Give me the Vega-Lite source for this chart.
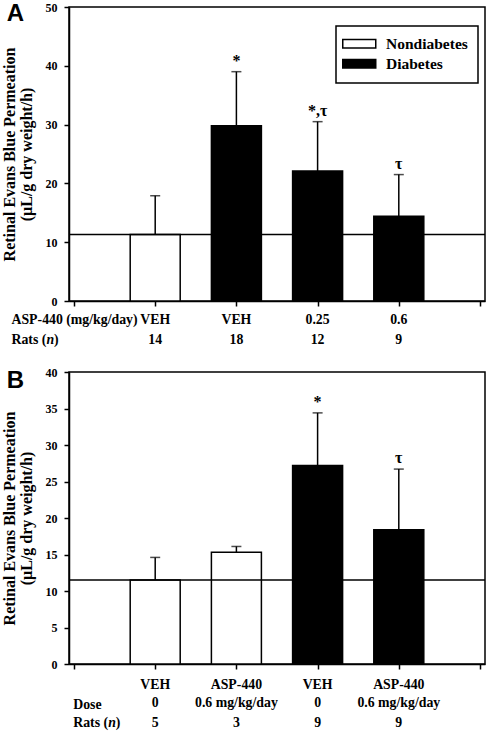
{
  "$schema": "https://vega.github.io/schema/vega-lite/v6.json",
  "padding": 0,
  "background": "white",
  "spacing": 17,
  "config": {
    "font": "Liberation Serif",
    "view": {"stroke": "black", "strokeWidth": 1.5},
    "axis": {
      "domainColor": "black", "domainWidth": 1.5,
      "tickColor": "black", "tickWidth": 1.5, "tickSize": 5,
      "grid": false, "labelOverlap": false,
      "labelFont": "Liberation Serif", "labelFontWeight": "bold", "labelFontSize": 12, "labelColor": "black", "labelPadding": 7,
      "titleFont": "Liberation Serif", "titleFontWeight": "bold", "titleFontSize": 16, "titleColor": "black"
    },
    "legend": {
      "labelFont": "Liberation Serif", "labelFontWeight": "bold", "labelFontSize": 15.5, "labelColor": "black",
      "strokeColor": "black", "fillColor": "white", "strokeWidth": 1.5
    },
    "text": {"font": "Liberation Serif", "fontWeight": "bold", "fontSize": 13.8, "color": "black"}
  },
  "datasets": {
    "barsA": [
      {"pos": 1, "group": "Nondiabetes", "value": 11.3, "upper": 17.9, "ann": "", "dose": "VEH", "n": "14"},
      {"pos": 2, "group": "Diabetes", "value": 29.8, "upper": 39.0, "ann": "*", "dose": "VEH", "n": "18"},
      {"pos": 3, "group": "Diabetes", "value": 22.1, "upper": 30.5, "ann": "*,τ", "dose": "0.25", "n": "12"},
      {"pos": 4, "group": "Diabetes", "value": 14.4, "upper": 21.5, "ann": "τ", "dose": "0.6", "n": "9"}
    ],
    "barsB": [
      {"pos": 1, "group": "Nondiabetes", "value": 11.5, "upper": 14.6, "ann": "", "drug": "VEH", "dose": "0", "n": "5"},
      {"pos": 2, "group": "Nondiabetes", "value": 15.3, "upper": 16.1, "ann": "", "drug": "ASP-440", "dose": "0.6 mg/kg/day", "n": "3"},
      {"pos": 3, "group": "Diabetes", "value": 27.2, "upper": 34.4, "ann": "*", "drug": "VEH", "dose": "0", "n": "9"},
      {"pos": 4, "group": "Diabetes", "value": 18.4, "upper": 26.7, "ann": "τ", "drug": "ASP-440", "dose": "0.6 mg/kg/day", "n": "9"}
    ],
    "refA": [{"ref": 11.3}],
    "refB": [{"ref": 11.5}],
    "one": [{"k": 1}]
  },
  "vconcat": [
    {
      "width": 416,
      "height": 294,
      "resolve": {"axis": {"x": "independent", "y": "independent"}},
      "layer": [
        {
          "data": {"name": "barsA"},
          "mark": {"type": "bar", "size": 50, "stroke": "black", "strokeWidth": 1.5},
          "encoding": {
            "x": {"field": "pos", "type": "quantitative", "scale": {"domain": [0, 5], "nice": false, "zero": false},
                  "axis": {"values": [0, 1, 2, 3, 4, 5], "labels": false, "title": null}},
            "y": {"field": "value", "type": "quantitative", "scale": {"domain": [0, 50], "nice": false},
                  "axis": {"values": [0, 10, 20, 30, 40, 50], "title": ["Retinal Evans Blue Permeation", "(µL/g dry weight/h)"], "titleLineHeight": 17, "titlePadding": 10.5}},
            "fill": {"field": "group", "type": "nominal", "scale": {"domain": ["Nondiabetes", "Diabetes"], "range": ["white", "black"]},
                     "legend": {"orient": "none", "legendX": 267, "legendY": 19, "title": null, "padding": 10, "labelFontSize": 15.5,
                                "symbolType": "M-2.2,-0.86H4.4V0.86H-2.2Z", "symbolSize": 100, "symbolStrokeColor": "black", "symbolStrokeWidth": 1.5,
                                "rowPadding": 3, "labelOffset": 24.5}}
          }
        },
        {
          "data": {"name": "barsA"},
          "mark": {"type": "rule", "color": "black", "strokeWidth": 1.5},
          "encoding": {"x": {"field": "pos", "type": "quantitative", "axis": null}, "y": {"field": "value", "type": "quantitative", "axis": null}, "y2": {"field": "upper"}}
        },
        {
          "data": {"name": "barsA"},
          "mark": {"type": "tick", "orient": "horizontal", "size": 10, "thickness": 1.5, "color": "black"},
          "encoding": {"x": {"field": "pos", "type": "quantitative", "axis": null}, "y": {"field": "upper", "type": "quantitative", "axis": null}}
        },
        {
          "data": {"name": "refA"},
          "mark": {"type": "rule", "color": "black", "strokeWidth": 1.5},
          "encoding": {"y": {"field": "ref", "type": "quantitative", "axis": null}}
        },
        {
          "data": {"name": "barsA"},
          "mark": {"type": "text", "dy": -6, "baseline": "alphabetic", "fontSize": 16},
          "encoding": {"x": {"field": "pos", "type": "quantitative", "axis": null}, "y": {"field": "upper", "type": "quantitative", "axis": null}, "text": {"field": "ann"}}
        },
        {
          "data": {"name": "barsA"},
          "mark": {"type": "text", "baseline": "alphabetic"},
          "encoding": {"x": {"field": "pos", "type": "quantitative", "axis": null}, "y": {"datum": -3.9, "axis": null}, "text": {"field": "dose"}}
        },
        {
          "data": {"name": "barsA"},
          "mark": {"type": "text", "baseline": "alphabetic"},
          "encoding": {"x": {"field": "pos", "type": "quantitative", "axis": null}, "y": {"datum": -7.3, "axis": null}, "text": {"field": "n"}}
        },
        {
          "data": {"name": "one"},
          "mark": {"type": "text", "align": "left", "baseline": "alphabetic", "text": "ASP-440 (mg/kg/day)"},
          "encoding": {"x": {"datum": -0.77, "axis": null}, "y": {"datum": -3.9, "axis": null}}
        },
        {
          "data": {"name": "one"},
          "mark": {"type": "text", "align": "left", "baseline": "alphabetic", "text": "Rats ("},
          "encoding": {"x": {"datum": -0.77, "axis": null}, "y": {"datum": -7.3, "axis": null}}
        },
        {
          "data": {"name": "one"},
          "mark": {"type": "text", "align": "left", "baseline": "alphabetic", "text": "n", "fontStyle": "italic", "dx": 35},
          "encoding": {"x": {"datum": -0.77, "axis": null}, "y": {"datum": -7.3, "axis": null}}
        },
        {
          "data": {"name": "one"},
          "mark": {"type": "text", "align": "left", "baseline": "alphabetic", "text": ")", "dx": 42.5},
          "encoding": {"x": {"datum": -0.77, "axis": null}, "y": {"datum": -7.3, "axis": null}}
        },
        {
          "data": {"name": "one"},
          "mark": {"type": "text", "align": "center", "baseline": "top", "text": "A", "font": "Liberation Sans", "fontSize": 24},
          "encoding": {"x": {"datum": -0.72, "axis": null}, "y": {"datum": 50.85, "axis": null}}
        }
      ]
    },
    {
      "width": 416,
      "height": 292,
      "resolve": {"axis": {"x": "independent", "y": "independent"}},
      "layer": [
        {
          "data": {"name": "barsB"},
          "mark": {"type": "bar", "size": 50, "stroke": "black", "strokeWidth": 1.5},
          "encoding": {
            "x": {"field": "pos", "type": "quantitative", "scale": {"domain": [0, 5], "nice": false, "zero": false},
                  "axis": {"values": [0, 1, 2, 3, 4, 5], "labels": false, "title": null}},
            "y": {"field": "value", "type": "quantitative", "scale": {"domain": [0, 40], "nice": false},
                  "axis": {"values": [0, 5, 10, 15, 20, 25, 30, 35, 40], "title": ["Retinal Evans Blue Permeation", "(µL/g dry weight/h)"], "titleLineHeight": 17, "titlePadding": 10.5}},
            "fill": {"field": "group", "type": "nominal", "scale": {"domain": ["Nondiabetes", "Diabetes"], "range": ["white", "black"]},
                     "legend": {"orient": "none", "legendX": 14, "legendY": 15, "title": null, "padding": 10, "labelFontSize": 15.5,
                                "symbolType": "M-2.2,-0.86H4.4V0.86H-2.2Z", "symbolSize": 100, "symbolStrokeColor": "black", "symbolStrokeWidth": 1.5,
                                "rowPadding": 3, "labelOffset": 24.5}}
          }
        },
        {
          "data": {"name": "barsB"},
          "mark": {"type": "rule", "color": "black", "strokeWidth": 1.5},
          "encoding": {"x": {"field": "pos", "type": "quantitative", "axis": null}, "y": {"field": "value", "type": "quantitative", "axis": null}, "y2": {"field": "upper"}}
        },
        {
          "data": {"name": "barsB"},
          "mark": {"type": "tick", "orient": "horizontal", "size": 10, "thickness": 1.5, "color": "black"},
          "encoding": {"x": {"field": "pos", "type": "quantitative", "axis": null}, "y": {"field": "upper", "type": "quantitative", "axis": null}}
        },
        {
          "data": {"name": "refB"},
          "mark": {"type": "rule", "color": "black", "strokeWidth": 1.5},
          "encoding": {"y": {"field": "ref", "type": "quantitative", "axis": null}}
        },
        {
          "data": {"name": "barsB"},
          "mark": {"type": "text", "dy": -6, "baseline": "alphabetic", "fontSize": 16},
          "encoding": {"x": {"field": "pos", "type": "quantitative", "axis": null}, "y": {"field": "upper", "type": "quantitative", "axis": null}, "text": {"field": "ann"}}
        },
        {
          "data": {"name": "barsB"},
          "mark": {"type": "text", "baseline": "alphabetic"},
          "encoding": {"x": {"field": "pos", "type": "quantitative", "axis": null}, "y": {"datum": -3.4, "axis": null}, "text": {"field": "drug"}}
        },
        {
          "data": {"name": "barsB"},
          "mark": {"type": "text", "baseline": "alphabetic"},
          "encoding": {"x": {"field": "pos", "type": "quantitative", "axis": null}, "y": {"datum": -5.9, "axis": null}, "text": {"field": "dose"}}
        },
        {
          "data": {"name": "barsB"},
          "mark": {"type": "text", "baseline": "alphabetic"},
          "encoding": {"x": {"field": "pos", "type": "quantitative", "axis": null}, "y": {"datum": -8.6, "axis": null}, "text": {"field": "n"}}
        },
        {
          "data": {"name": "one"},
          "mark": {"type": "text", "align": "left", "baseline": "alphabetic", "text": "Dose"},
          "encoding": {"x": {"datum": -0.01, "axis": null}, "y": {"datum": -6.1, "axis": null}}
        },
        {
          "data": {"name": "one"},
          "mark": {"type": "text", "align": "left", "baseline": "alphabetic", "text": "Rats ("},
          "encoding": {"x": {"datum": -0.01, "axis": null}, "y": {"datum": -8.6, "axis": null}}
        },
        {
          "data": {"name": "one"},
          "mark": {"type": "text", "align": "left", "baseline": "alphabetic", "text": "n", "fontStyle": "italic", "dx": 35},
          "encoding": {"x": {"datum": -0.01, "axis": null}, "y": {"datum": -8.6, "axis": null}}
        },
        {
          "data": {"name": "one"},
          "mark": {"type": "text", "align": "left", "baseline": "alphabetic", "text": ")", "dx": 42.5},
          "encoding": {"x": {"datum": -0.01, "axis": null}, "y": {"datum": -8.6, "axis": null}}
        },
        {
          "data": {"name": "one"},
          "mark": {"type": "text", "align": "center", "baseline": "top", "text": "B", "font": "Liberation Sans", "fontSize": 24},
          "encoding": {"x": {"datum": -0.72, "axis": null}, "y": {"datum": 40.4, "axis": null}}
        }
      ]
    }
  ]
}
